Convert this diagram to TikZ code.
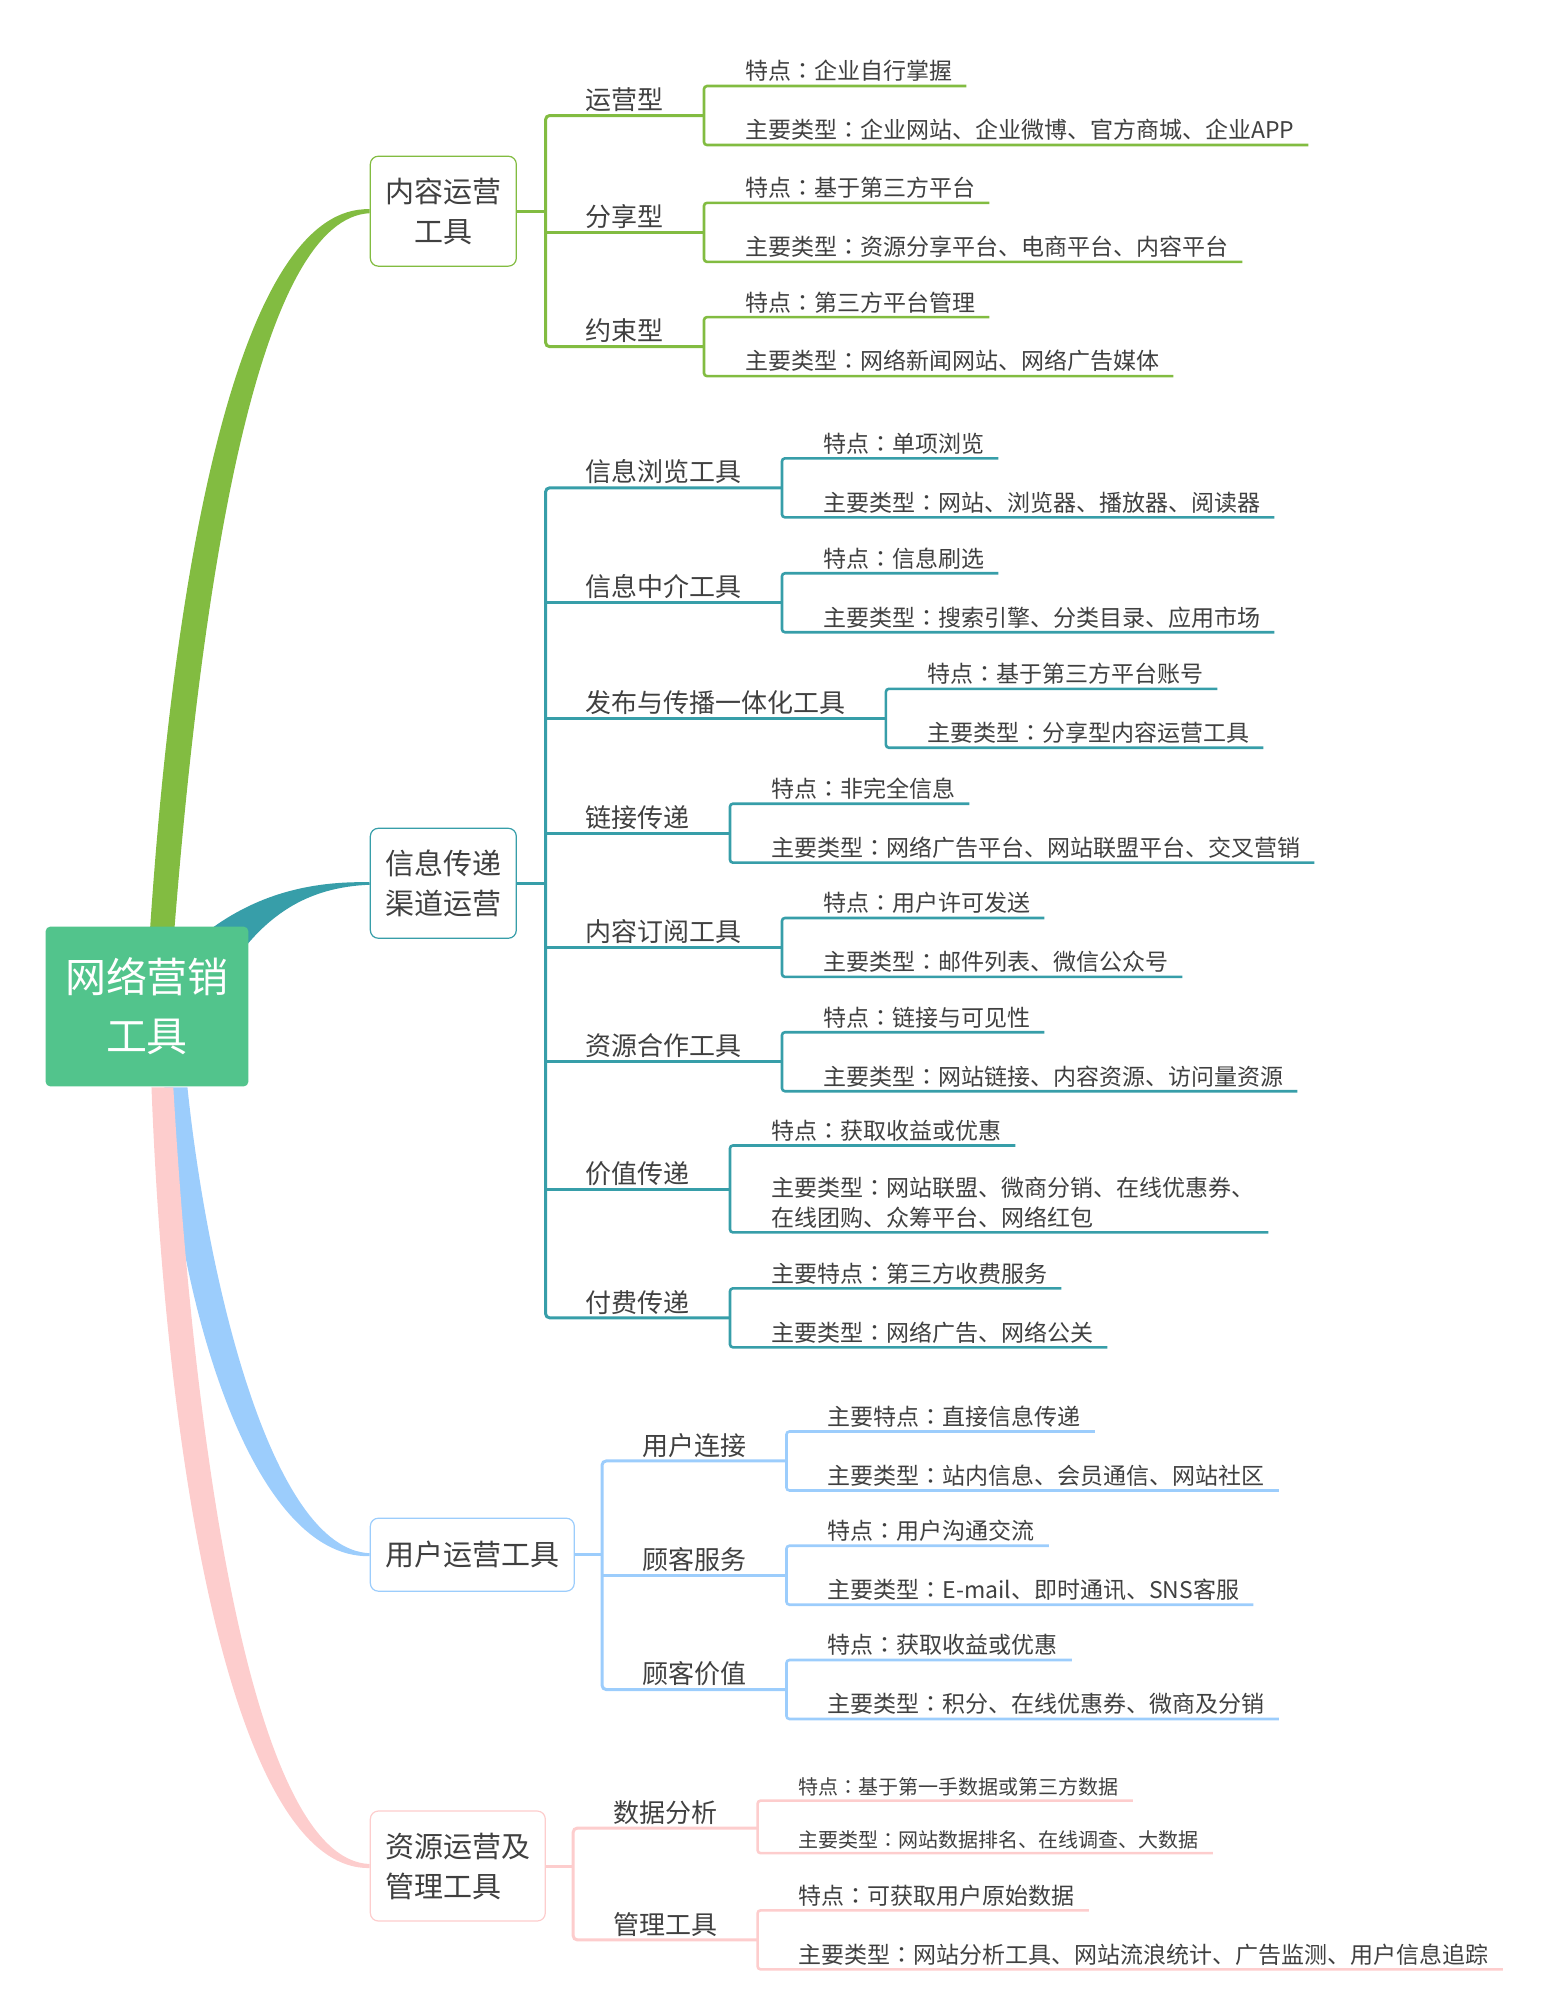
\documentclass[tikz,border=0pt]{standalone}
\usepackage{fontspec}
\setmainfont{Noto Sans CJK SC}
\newfontfamily\tcfont{Noto Sans CJK TC}
\newcommand{\cln}{{\tcfont ：}}
\usetikzlibrary{positioning}

\definecolor{rootgreen}{HTML}{52C48C}
\definecolor{grn}{HTML}{82BC41}
\definecolor{tealbr}{HTML}{379EA9}
\definecolor{blu}{HTML}{9CCDFC}
\definecolor{pnk}{HTML}{FDCDCD}
\definecolor{ink}{HTML}{404040}

\begin{document}
\begin{tikzpicture}[
  x=1.2841pt, y=-1.2841pt,
  rootbox/.style={fill=rootgreen, rounded corners=5pt, text=white, align=center, minimum width=203pt, minimum height=160pt, inner sep=0pt, font=\fontsize{41}{59}\selectfont},
  topic/.style={draw, fill=white, line width=1.2pt, rounded corners=8pt, text=ink, align=center, anchor=west, inner xsep=15pt, minimum height=110pt, font=\fontsize{29}{40}\selectfont},
  sub/.style={anchor=south west, inner xsep=40pt, inner ysep=3.5pt, text=ink, font=\fontsize{26}{32}\selectfont},
  leaf/.style={anchor=south west, inner xsep=14pt, inner ysep=4pt, text=ink, align=left, font=\fontsize{23}{30}\selectfont},
  leafsm/.style={leaf, font=\fontsize{20}{26}\selectfont},
  ln/.style={line width=3pt},
  br/.style={line width=2.6pt, rounded corners=3pt}
]
\useasboundingbox (0,0) rectangle (1204,1568);

% main topics
\node[topic, draw=grn] (n1) at (288,164.5) {内容运营\\工具};
\node[topic, draw=tealbr] (n2) at (288,688) {信息传递\\渠道运营};
\node[topic, draw=blu, minimum height=73pt] (n3) at (288,1211) {用户运营工具};
\node[topic, draw=pnk, align=left] (n4) at (288,1453.5) {资源运营及\\管理工具};

% tapered branches from the centre
\fill[grn] (117,722) .. controls (138,410) and (192,160) .. ([yshift=2pt]n1.west)
  -- ([yshift=-2pt]n1.west) .. controls (206,170) and (160,420) .. (136,722) -- cycle;
\fill[tealbr] (150,735) .. controls (190,700) and (235,686) .. ([yshift=1pt]n2.west)
  -- ([yshift=-1.5pt]n2.west) .. controls (240,691) and (205,712) .. (175,760) -- cycle;
\fill[blu] (128,847) .. controls (136,1010) and (195,1214) .. ([yshift=-1.5pt]n3.west)
  -- ([yshift=1.5pt]n3.west) .. controls (212,1207) and (162,1000) .. (146,847) -- cycle;
\fill[pnk] (118,847) .. controls (130,1160) and (185,1457) .. ([yshift=-2pt]n4.west)
  -- ([yshift=2pt]n4.west) .. controls (198,1449) and (152,1140) .. (135,847) -- cycle;

\node[rootbox] (root) at (114.5,784) {网络营销\\工具};

% --- 内容运营工具
\node[sub] (c11) at (425,90) {运营型};
\node[sub] (c12) at (425,181) {分享型};
\node[sub] (c13) at (425,270) {约束型};
\draw[ln, grn] (n1.east) -- (n1.east -| c11.south west);
\draw[ln, grn, rounded corners=4pt] (c11.south east) -- (c11.south west) -- (c13.south west) -- (c13.south east);
\draw[ln, grn] (c12.south west) -- (c12.south east);

\node[leaf] (a11) at ([xshift=27pt, yshift=29.5pt]c11.south east) {特点\cln 企业自行掌握};
\node[leaf] (b11) at ([xshift=27pt, yshift=-29.5pt]c11.south east) {主要类型\cln 企业网站、企业微博、官方商城、企业APP};
\draw[br, grn] (a11.south east) -- (a11.south west -| c11.south east) -- (b11.south west -| c11.south east) -- (b11.south east);

\node[leaf] (a12) at ([xshift=27pt, yshift=29.5pt]c12.south east) {特点\cln 基于第三方平台};
\node[leaf] (b12) at ([xshift=27pt, yshift=-29.5pt]c12.south east) {主要类型\cln 资源分享平台、电商平台、内容平台};
\draw[br, grn] (a12.south east) -- (a12.south west -| c12.south east) -- (b12.south west -| c12.south east) -- (b12.south east);

\node[leaf] (a13) at ([xshift=27pt, yshift=29.5pt]c13.south east) {特点\cln 第三方平台管理};
\node[leaf] (b13) at ([xshift=27pt, yshift=-29.5pt]c13.south east) {主要类型\cln 网络新闻网站、网络广告媒体};
\draw[br, grn] (a13.south east) -- (a13.south west -| c13.south east) -- (b13.south west -| c13.south east) -- (b13.south east);

% --- 信息传递渠道运营
\node[sub] (c21) at (425,380) {信息浏览工具};
\node[sub] (c22) at (425,469.5) {信息中介工具};
\node[sub] (c23) at (425,559.5) {发布与传播一体化工具};
\node[sub] (c24) at (425,649) {链接传递};
\node[sub] (c25) at (425,738) {内容订阅工具};
\node[sub] (c26) at (425,827) {资源合作工具};
\node[sub] (c27) at (425,926.5) {价值传递};
\node[sub] (c28) at (425,1026.5) {付费传递};
\draw[ln, tealbr] (n2.east) -- (n2.east -| c21.south west);
\draw[ln, tealbr, rounded corners=4pt] (c21.south east) -- (c21.south west) -- (c28.south west) -- (c28.south east);
\draw[ln, tealbr] (c22.south west) -- (c22.south east);
\draw[ln, tealbr] (c23.south west) -- (c23.south east);
\draw[ln, tealbr] (c24.south west) -- (c24.south east);
\draw[ln, tealbr] (c25.south west) -- (c25.south east);
\draw[ln, tealbr] (c26.south west) -- (c26.south east);
\draw[ln, tealbr] (c27.south west) -- (c27.south east);

\node[leaf] (a21) at ([xshift=27pt, yshift=29.5pt]c21.south east) {特点\cln 单项浏览};
\node[leaf] (b21) at ([xshift=27pt, yshift=-29.5pt]c21.south east) {主要类型\cln 网站、浏览器、播放器、阅读器};
\draw[br, tealbr] (a21.south east) -- (a21.south west -| c21.south east) -- (b21.south west -| c21.south east) -- (b21.south east);

\node[leaf] (a22) at ([xshift=27pt, yshift=29.5pt]c22.south east) {特点\cln 信息刷选};
\node[leaf] (b22) at ([xshift=27pt, yshift=-29.5pt]c22.south east) {主要类型\cln 搜索引擎、分类目录、应用市场};
\draw[br, tealbr] (a22.south east) -- (a22.south west -| c22.south east) -- (b22.south west -| c22.south east) -- (b22.south east);

\node[leaf] (a23) at ([xshift=27pt, yshift=29.5pt]c23.south east) {特点\cln 基于第三方平台账号};
\node[leaf] (b23) at ([xshift=27pt, yshift=-29.5pt]c23.south east) {主要类型\cln 分享型内容运营工具};
\draw[br, tealbr] (a23.south east) -- (a23.south west -| c23.south east) -- (b23.south west -| c23.south east) -- (b23.south east);

\node[leaf] (a24) at ([xshift=27pt, yshift=29.5pt]c24.south east) {特点\cln 非完全信息};
\node[leaf] (b24) at ([xshift=27pt, yshift=-29.5pt]c24.south east) {主要类型\cln 网络广告平台、网站联盟平台、交叉营销};
\draw[br, tealbr] (a24.south east) -- (a24.south west -| c24.south east) -- (b24.south west -| c24.south east) -- (b24.south east);

\node[leaf] (a25) at ([xshift=27pt, yshift=29.5pt]c25.south east) {特点\cln 用户许可发送};
\node[leaf] (b25) at ([xshift=27pt, yshift=-29.5pt]c25.south east) {主要类型\cln 邮件列表、微信公众号};
\draw[br, tealbr] (a25.south east) -- (a25.south west -| c25.south east) -- (b25.south west -| c25.south east) -- (b25.south east);

\node[leaf] (a26) at ([xshift=27pt, yshift=29.5pt]c26.south east) {特点\cln 链接与可见性};
\node[leaf] (b26) at ([xshift=27pt, yshift=-29.5pt]c26.south east) {主要类型\cln 网站链接、内容资源、访问量资源};
\draw[br, tealbr] (a26.south east) -- (a26.south west -| c26.south east) -- (b26.south west -| c26.south east) -- (b26.south east);

\node[leaf] (a27) at ([xshift=27pt, yshift=44pt]c27.south east) {特点\cln 获取收益或优惠};
\node[leaf] (b27) at ([xshift=27pt, yshift=-43pt]c27.south east) {主要类型\cln 网站联盟、微商分销、在线优惠券、\\在线团购、众筹平台、网络红包};
\draw[br, tealbr] (a27.south east) -- (a27.south west -| c27.south east) -- (b27.south west -| c27.south east) -- (b27.south east);

\node[leaf] (a28) at ([xshift=27pt, yshift=29.5pt]c28.south east) {主要特点\cln 第三方收费服务};
\node[leaf] (b28) at ([xshift=27pt, yshift=-29.5pt]c28.south east) {主要类型\cln 网络广告、网络公关};
\draw[br, tealbr] (a28.south east) -- (a28.south west -| c28.south east) -- (b28.south west -| c28.south east) -- (b28.south east);

% --- 用户运营工具
\node[sub] (c31) at (469,1138) {用户连接};
\node[sub] (c32) at (469,1227) {顾客服务};
\node[sub] (c33) at (469,1316) {顾客价值};
\draw[ln, blu] (n3.east) -- (n3.east -| c31.south west);
\draw[ln, blu, rounded corners=4pt] (c31.south east) -- (c31.south west) -- (c33.south west) -- (c33.south east);
\draw[ln, blu] (c32.south west) -- (c32.south east);

\node[leaf] (a31) at ([xshift=27pt, yshift=29.5pt]c31.south east) {主要特点\cln 直接信息传递};
\node[leaf] (b31) at ([xshift=27pt, yshift=-29.5pt]c31.south east) {主要类型\cln 站内信息、会员通信、网站社区};
\draw[br, blu] (a31.south east) -- (a31.south west -| c31.south east) -- (b31.south west -| c31.south east) -- (b31.south east);

\node[leaf] (a32) at ([xshift=27pt, yshift=29.5pt]c32.south east) {特点\cln 用户沟通交流};
\node[leaf] (b32) at ([xshift=27pt, yshift=-29.5pt]c32.south east) {主要类型\cln E-mail、即时通讯、SNS客服};
\draw[br, blu] (a32.south east) -- (a32.south west -| c32.south east) -- (b32.south west -| c32.south east) -- (b32.south east);

\node[leaf] (a33) at ([xshift=27pt, yshift=29.5pt]c33.south east) {特点\cln 获取收益或优惠};
\node[leaf] (b33) at ([xshift=27pt, yshift=-29.5pt]c33.south east) {主要类型\cln 积分、在线优惠券、微商及分销};
\draw[br, blu] (a33.south east) -- (a33.south west -| c33.south east) -- (b33.south west -| c33.south east) -- (b33.south east);

% --- 资源运营及管理工具
\node[sub] (c41) at (446.5,1424) {数据分析};
\node[sub] (c42) at (446.5,1511) {管理工具};
\draw[ln, pnk] (n4.east) -- (n4.east -| c41.south west);
\draw[ln, pnk, rounded corners=4pt] (c41.south east) -- (c41.south west) -- (c42.south west) -- (c42.south east);

\node[leafsm] (a41) at ([xshift=27pt, yshift=27.5pt]c41.south east) {特点\cln 基于第一手数据或第三方数据};
\node[leafsm] (b41) at ([xshift=27pt, yshift=-25pt]c41.south east) {主要类型\cln 网站数据排名、在线调查、大数据};
\draw[br, pnk] (a41.south east) -- (a41.south west -| c41.south east) -- (b41.south west -| c41.south east) -- (b41.south east);

\node[leaf] (a42) at ([xshift=27pt, yshift=29.5pt]c42.south east) {特点\cln 可获取用户原始数据};
\node[leaf] (b42) at ([xshift=27pt, yshift=-29.5pt]c42.south east) {主要类型\cln 网站分析工具、网站流浪统计、广告监测、用户信息追踪};
\draw[br, pnk] (a42.south east) -- (a42.south west -| c42.south east) -- (b42.south west -| c42.south east) -- (b42.south east);
\end{tikzpicture}
\end{document}
